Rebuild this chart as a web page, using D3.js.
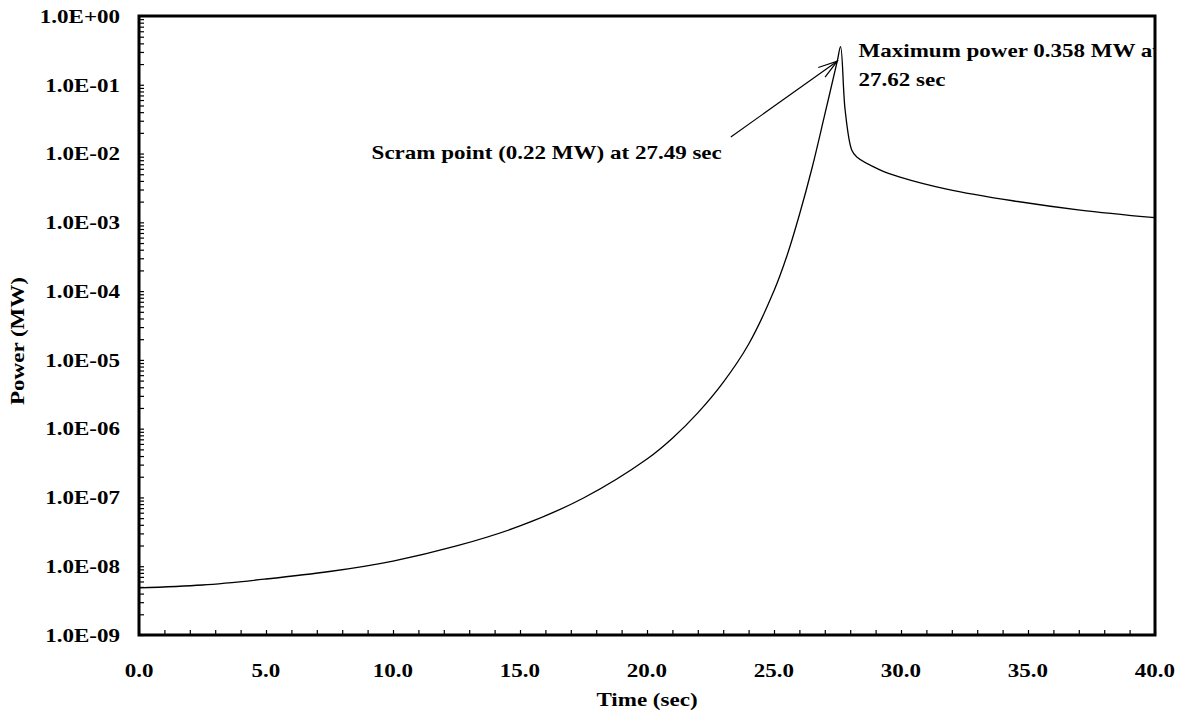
<!DOCTYPE html>
<html lang="en">
<head>
<meta charset="UTF-8">
<title>Power vs time</title>
<style>
  body { margin: 0; background: #fff; }
  text { font-family: "Liberation Serif", "Times New Roman", serif; font-weight: bold; fill: #000; }
</style>
</head>
<body>
<svg id="svg" width="1178" height="719"></svg>
<script src="https://d3js.org/d3.v7.min.js"></script>
<script>
// time (sec) and power (MW)
const times = [0, 2.5, 5, 7.5, 10, 12.5, 15, 17.5, 20, 21, 22, 23, 24, 25, 25.5, 26, 26.5, 27, 27.49, 27.62, 27.8, 28.06, 28.26, 29.17, 29.96, 31.8, 34.4, 37.05, 40]
const power = [4.83e-9, 5.33e-9, 6.52e-9, 8.38e-9, 1.19e-8, 1.97e-8, 3.85e-8, 9.82e-8, 3.62e-7, 7.27e-7, 1.70e-6, 4.72e-6, 1.69e-5, 1.01e-4, 3.18e-4, 1.29e-3, 6.22e-3, 3.71e-2, 0.22, 0.358, 0.043, 0.0113, 0.0089, 0.0058, 0.00456, 0.00305, 0.00206, 0.00151, 0.00117]

const xTicks = [0, 5, 10, 15, 20, 25, 30, 35, 40]
const yTicks = [1e0, 1e-1, 1e-2, 1e-3, 1e-4, 1e-5, 1e-6, 1e-7, 1e-8, 1e-9]
const yLabels = ["1.0E+00", "1.0E-01", "1.0E-02", "1.0E-03", "1.0E-04", "1.0E-05", "1.0E-06", "1.0E-07", "1.0E-08", "1.0E-09"]

const scram = { t: 27.49, p: 0.22, from: [23.3, 0.0174], label: "Scram point (0.22 MW) at 27.49 sec" }
const peakLines = ["Maximum power 0.358 MW at", "27.62 sec"]

const padding = { top: 16, bottom: 84, right: 23, left: 139 }
const svg = d3.select("svg#svg")
const width = +svg.attr("width")
const height = +svg.attr("height")
const innerWidth = width - padding.left - padding.right
const innerHeight = height - padding.top - padding.bottom
const stretch = 1.18  // the scanned type is wider than Liberation Serif
const fs = 19.5

// widen a text selection to the scanned letter width
function widen(sel) {
  sel.each(function () {
    const w = this.getComputedTextLength()
    d3.select(this).attr("textLength", w * stretch).attr("lengthAdjust", "spacingAndGlyphs")
  })
}

const xScale = d3.scaleLinear().domain([0, 40]).range([0, innerWidth])
const yScale = d3.scaleLog().domain([1e-9, 1]).range([innerHeight, 0])

const g = svg.append("g").attr("transform", `translate(${padding.left},${padding.top})`)

g.append("clipPath").attr("id", "clip")
  .append("rect").attr("width", innerWidth).attr("height", innerHeight)

// minor ticks, pointing inward
const xAxis = d3.axisBottom(xScale).tickValues(d3.range(0, 41, 1)).tickSize(-5).tickFormat("")
g.append("g").attr("transform", `translate(0,${innerHeight})`).call(xAxis)

const yMinor = []
for (let e = -9; e < 0; e++) for (let k = 1; k < 10; k++) yMinor.push(k * Math.pow(10, e))
const yAxis = d3.axisLeft(yScale).tickValues(yMinor).tickSize(-5).tickFormat("")
g.append("g").call(yAxis)
g.selectAll(".domain").remove()
g.selectAll(".tick text").remove()
g.selectAll(".tick line").attr("stroke", "#000").attr("stroke-width", 1.2)

// frame
g.append("rect").attr("width", innerWidth).attr("height", innerHeight)
  .attr("fill", "none").attr("stroke", "#000").attr("stroke-width", 3)

// tick labels
g.selectAll(".ylab").data(yTicks).join("text").attr("class", "ylab")
  .attr("x", -19).attr("y", d => yScale(d)).attr("dy", "0.35em")
  .attr("text-anchor", "end").attr("font-size", fs)
  .text((d, i) => yLabels[i])
  .call(widen)

g.selectAll(".xlab").data(xTicks).join("text").attr("class", "xlab")
  .attr("x", d => xScale(d)).attr("y", innerHeight + 42)
  .attr("text-anchor", "middle").attr("font-size", fs)
  .text(d => d.toFixed(1))
  .call(widen)

// axis titles
svg.append("text").attr("x", padding.left + innerWidth / 2).attr("y", 706)
  .attr("text-anchor", "middle").attr("font-size", fs).text("Time (sec)")
  .call(widen)
svg.append("text").attr("transform", `translate(24,341) rotate(-90)`)
  .attr("text-anchor", "middle").attr("font-size", fs).text("Power (MW)")
  .call(widen)

// curve
const data = times.map((t, i) => ({ t: t, p: power[i] }))
const line = d3.line().x(d => xScale(d.t)).y(d => yScale(d.p)).curve(d3.curveCatmullRom.alpha(0.5))
g.append("path").datum(data).attr("d", line)
  .attr("fill", "none").attr("stroke", "#000").attr("stroke-width", 1.3)

// scram annotation
const x0 = xScale(scram.from[0]), y0 = yScale(scram.from[1])
const x1 = xScale(scram.t), y1 = yScale(scram.p)
g.append("line").attr("x1", x0).attr("y1", y0).attr("x2", x1).attr("y2", y1)
  .attr("stroke", "#000").attr("stroke-width", 1.2)
const ang = Math.atan2(y1 - y0, x1 - x0)
const head = [ang + 0.3, ang - 0.3].map(a => [x1 - 20 * Math.cos(a), y1 - 20 * Math.sin(a)])
g.append("path").attr("d", `M${head[0]}L${x1},${y1}L${head[1]}`)
  .attr("fill", "none").attr("stroke", "#000").attr("stroke-width", 1.2)
g.append("text").attr("x", x0 - 9).attr("y", y0 + 22)
  .attr("text-anchor", "end").attr("font-size", fs).text(scram.label)
  .call(widen)

// peak annotation, clipped by the frame
const pk = g.append("g").attr("clip-path", "url(#clip)")
pk.selectAll("text").data(peakLines).join("text")
  .attr("x", xScale(27.62) + 18).attr("y", (d, i) => 41 + i * 29)
  .attr("font-size", fs).text(d => d)
  .call(widen)
</script>
</body>
</html>
